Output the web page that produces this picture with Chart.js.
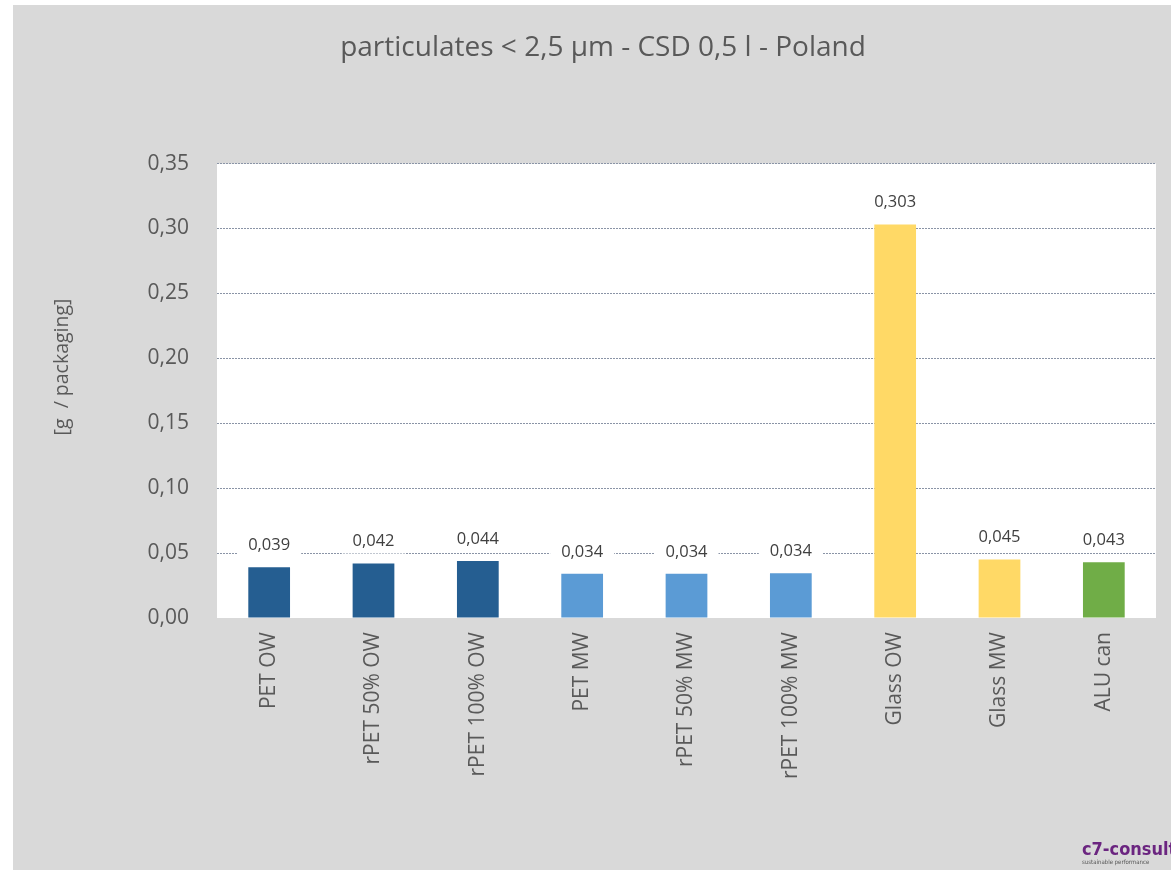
<!DOCTYPE html>
<html>
<head>
<meta charset="utf-8">
<script src="https://cdn.jsdelivr.net/npm/chart.js@4.4.1/dist/chart.umd.min.js"></script>
<style>
  body { margin: 0; background: #ffffff; overflow: hidden; width: 1171px; height: 870px; position: relative; }
  #wrap { position: absolute; left: 13px; top: 5px; }
  #logo { position: absolute; left: 1082px; top: 838px; font-family: "DejaVu Sans Condensed", "DejaVu Sans", sans-serif; font-weight: bold; font-size: 18px; color: #6b2580; white-space: nowrap; }
  #logo small { display: block; font-size: 6px; font-weight: normal; color: #555; margin-top: -1px; }
</style>
</head>
<body>
<div id="wrap"><canvas id="particulatesChart" width="1180" height="865"></canvas></div>
<div id="logo">c7-consult<small>sustainable performance</small></div>
<script>
let particulatesChart = document.getElementById("particulatesChart");

const categories = ['PET OW', 'rPET 50% OW', 'rPET 100% OW', 'PET MW', 'rPET 50% MW', 'rPET 100% MW', 'Glass OW', 'Glass MW', 'ALU can'];
const values = [0.039, 0.042, 0.044, 0.034, 0.034, 0.0344, 0.303, 0.045, 0.043];
const valueLabels = ['0,039', '0,042', '0,044', '0,034', '0,034', '0,034', '0,303', '0,045', '0,043'];
const barColors = ['#255e91', '#255e91', '#255e91', '#5b9bd5', '#5b9bd5', '#5b9bd5', '#ffd966', '#ffd966', '#70ad47'];

const textGrey = '#595959';
const fontName = '"Open Sans", sans-serif';

// grey page + white plot area
const backgroundPlugin = {
  id: 'backgroundPlugin',
  beforeDraw(chart) {
    const ctx = chart.ctx;
    const a = chart.chartArea;
    ctx.save();
    ctx.fillStyle = '#d9d9d9';
    ctx.fillRect(0, 0, chart.width, chart.height);
    ctx.fillStyle = '#ffffff';
    ctx.fillRect(a.left, a.top, a.right - a.left, a.bottom - a.top);
    ctx.restore();
  }
};

// value labels on white boxes above bars
const valueLabelPlugin = {
  id: 'valueLabelPlugin',
  afterDatasetsDraw(chart) {
    const ctx = chart.ctx;
    const meta = chart.getDatasetMeta(0);
    ctx.save();
    ctx.font = '16.5px ' + fontName;
    ctx.textAlign = 'center';
    ctx.textBaseline = 'middle';
    meta.data.forEach((bar, i) => {
      const txt = valueLabels[i];
      const w = ctx.measureText(txt).width + 22;
      const y = bar.y - 22;
      ctx.fillStyle = '#ffffff';
      ctx.fillRect(bar.x - w / 2, y - 12, w, 24);
      ctx.fillStyle = '#404040';
      ctx.fillText(txt, bar.x, y);
    });
    ctx.restore();
  }
};

// y axis caption
const yCaptionPlugin = {
  id: 'yCaptionPlugin',
  afterDraw(chart) {
    const ctx = chart.ctx;
    ctx.save();
    ctx.translate(49, 362);
    ctx.rotate(-Math.PI / 2);
    ctx.font = '19.5px ' + fontName;
    ctx.fillStyle = textGrey;
    ctx.textAlign = 'center';
    ctx.textBaseline = 'middle';
    ctx.fillText('[g  / packaging]', 0, 0);
    ctx.restore();
  }
};

const dataParticulates = {
  labels: categories,
  datasets: [
    {
      label: 'particulates',
      data: values,
      backgroundColor: barColors,
      borderWidth: 0,
      categoryPercentage: 1.0,
      barPercentage: 0.4,
    }
  ]
};

const configParticulates = {
  type: 'bar',
  data: dataParticulates,
  plugins: [backgroundPlugin, valueLabelPlugin, yCaptionPlugin],
  options: {
    responsive: false,
    animation: false,
    layout: { padding: 0 },
    plugins: {
      legend: { display: false },
      tooltip: { enabled: false },
      title: {
        display: true,
        text: 'particulates < 2,5 µm - CSD 0,5 l - Poland',
        color: textGrey,
        font: { family: fontName, size: 28, weight: 'normal' },
        padding: { top: 26, bottom: 99 }
      }
    },
    scales: {
      x: {
        grid: { display: false, drawTicks: false },
        border: { display: false },
        ticks: {
          color: textGrey,
          font: { family: fontName, size: 21 },
          minRotation: 90,
          maxRotation: 90,
          padding: 14
        },
        afterFit(scale) { scale.height = 252; }
      },
      y: {
        min: 0,
        max: 0.35,
        grid: {
          color: (c) => (c.tick && c.tick.value === 0 ? 'rgba(0,0,0,0)' : '#8a94a6'),
          lineWidth: 1,
          drawTicks: false
        },
        border: { display: false, dash: [2, 1] },
        ticks: {
          stepSize: 0.05,
          color: textGrey,
          font: { family: fontName, size: 21 },
          padding: 28,
          callback: (v) => v.toFixed(2).replace('.', ',')
        },
        afterFit(scale) { scale.width = 204; }
      },
      // empty right margin so the title stays centred on the whole canvas
      yRight: {
        position: 'right',
        display: true,
        grid: { display: false, drawTicks: false },
        border: { display: false },
        ticks: { display: false },
        afterFit(scale) { scale.width = 37; }
      }
    }
  }
};

let particulatesGraph = new Chart(particulatesChart, configParticulates);
</script>
</body>
</html>
